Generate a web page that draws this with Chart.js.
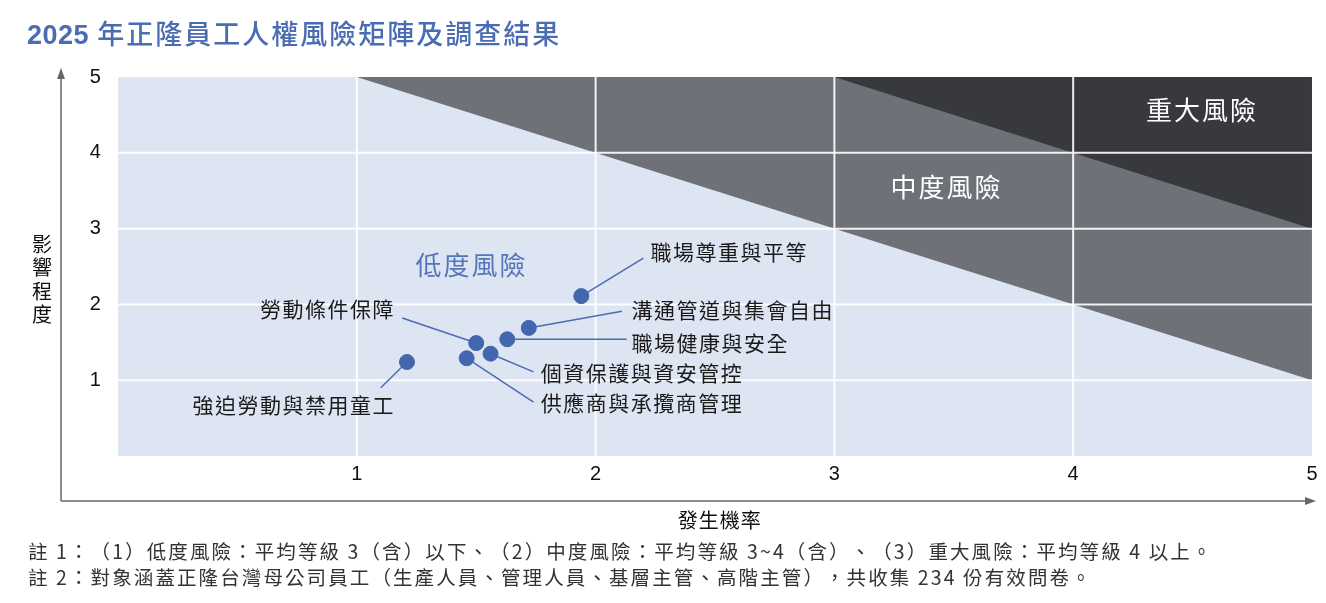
<!DOCTYPE html>
<html>
<head>
<meta charset="utf-8">
<script src="https://cdn.jsdelivr.net/npm/chart.js@4"></script>
<style>
  html, body { margin: 0; padding: 0; background: #fff; }
  #wrap { position: relative; width: 1326px; height: 603px; }
  #mycanvas { position: absolute; left: 0; top: 0; }
  .txt { position: absolute; white-space: nowrap; text-spacing-trim: space-all; }
  #title { left: 27px; top: 14px; line-height: 38px; font-size: 27px; color: #4a6cb3;
           font-family: "Noto Sans CJK TC", sans-serif; font-weight: 500; letter-spacing: 2px; }
  #title b { font-family: "Liberation Sans", sans-serif; font-weight: bold; font-size: 27px; letter-spacing: 0.5px; }
  .note { left: 28px; line-height: 24px; font-size: 19.5px; color: #333; letter-spacing: 2.1px;
          font-family: "Noto Sans CJK TC", sans-serif; }
</style>
</head>
<body>
<div id="wrap">
  <canvas id="mycanvas" width="1326" height="603"></canvas>
  <div class="txt" id="title"></div>
  <div class="txt note" id="note1" style="top:539px"></div>
  <div class="txt note" id="note2" style="top:565px"></div>
</div>
<script>
// risk items: probability (x) and impact (y)
var items = ["職場尊重與平等", "溝通管道與集會自由", "職場健康與安全", "勞動條件保障",
             "個資保護與資安管控", "供應商與承攬商管理", "強迫勞動與禁用童工"];
var probability = [1.94, 1.72, 1.63, 1.50, 1.56, 1.46, 1.21];
var impact      = [2.11, 1.69, 1.54, 1.49, 1.35, 1.29, 1.24];

// where each label's leader line ends and where its text sits (data units)
var leadX  = [2.20, 2.11, 2.13, 1.19, 1.74, 1.74, 1.10];
var leadY  = [2.61, 1.91, 1.54, 1.82, 1.11, 0.71, 0.90];
var textX  = [2.23, 2.15, 2.15, 1.16, 1.77, 1.77, 1.16];
var textY  = [2.69, 1.93, 1.49, 1.94, 1.095, 0.70, 0.67];
var textAlign = ["left", "left", "left", "right", "left", "left", "right"];

var ticks = [1, 2, 3, 4, 5];
var regionNames = ["低度風險", "中度風險", "重大風險"];
var regionX = [1.48, 3.47, 4.54];
var regionY = [2.52, 3.55, 4.56];

var titleYear = "2025";
var title = " 年正隆員工人權風險矩陣及調查結果";
var xTitle = "發生機率";
var yTitle = "影響程度";
var notes = [
  "註 1：（1）低度風險：平均等級 3（含）以下、（2）中度風險：平均等級 3~4（含）、（3）重大風險：平均等級 4 以上。",
  "註 2：對象涵蓋正隆台灣母公司員工（生產人員、管理人員、基層主管、高階主管），共收集 234 份有效問卷。"
];

var FONT = '"Liberation Sans", "Noto Sans CJK TC", sans-serif';
var CJK = '"Noto Sans CJK TC", "Liberation Sans", sans-serif';

document.getElementById("title").innerHTML = "<b>" + titleYear + "</b>" + title;
document.getElementById("note1").textContent = notes[0];
document.getElementById("note2").textContent = notes[1];

var matrixPlugin = {
  id: "matrix",
  beforeDatasetsDraw: function(chart) {
    var c = chart.ctx, xs = chart.scales.x, ys = chart.scales.y;
    function X(v) { return xs.getPixelForValue(v); }
    function Y(v) { return ys.getPixelForValue(v); }
    c.save();
    // zones
    c.fillStyle = "#dee5f2";
    c.fillRect(X(0), Y(5), X(5) - X(0), Y(0) - Y(5));
    c.fillStyle = "#6f7179";
    c.beginPath(); c.moveTo(X(1), Y(5)); c.lineTo(X(5), Y(5)); c.lineTo(X(5), Y(1)); c.closePath(); c.fill();
    c.fillStyle = "#38393d";
    c.beginPath(); c.moveTo(X(3), Y(5)); c.lineTo(X(5), Y(5)); c.lineTo(X(5), Y(3)); c.closePath(); c.fill();
    // grid
    c.strokeStyle = "rgba(255,255,255,0.9)";
    c.lineWidth = 2;
    for (var i = 1; i < 5; i++) {
      c.beginPath(); c.moveTo(X(i), Y(0)); c.lineTo(X(i), Y(5)); c.stroke();
      c.beginPath(); c.moveTo(X(0), Y(i)); c.lineTo(X(5), Y(i)); c.stroke();
    }
    // axes with arrows
    c.strokeStyle = "#666"; c.fillStyle = "#666"; c.lineWidth = 1.5;
    var ox = chart.chartArea.left, oy = chart.chartArea.bottom;
    var tx = chart.chartArea.right, ty = chart.chartArea.top;
    c.beginPath(); c.moveTo(ox, oy); c.lineTo(ox, ty + 8); c.stroke();
    c.beginPath(); c.moveTo(ox, oy); c.lineTo(tx - 8, oy); c.stroke();
    c.beginPath(); c.moveTo(ox, ty); c.lineTo(ox - 4, ty + 11); c.lineTo(ox + 4, ty + 11); c.closePath(); c.fill();
    c.beginPath(); c.moveTo(tx, oy); c.lineTo(tx - 11, oy - 4); c.lineTo(tx - 11, oy + 4); c.closePath(); c.fill();
    // tick labels
    c.fillStyle = "#111"; c.font = "20px " + FONT;
    c.textAlign = "center"; c.textBaseline = "middle";
    ticks.forEach(function(t) {
      c.fillText(String(t), X(t), Y(-0.25));
      c.fillText(String(t), X(-0.095), Y(t));
    });
    // axis titles
    c.font = "20px " + CJK;
    c.letterSpacing = "1px";
    c.fillText(xTitle, X(2.52), oy + 19);
    c.letterSpacing = "0px";
    for (var k = 0; k < yTitle.length; k++) {
      c.fillText(yTitle[k], 42, 244 + k * 23.5);
    }
    // zone names
    c.font = "26px " + CJK;
    c.letterSpacing = "2px";
    regionNames.forEach(function(n, j) {
      c.fillStyle = j === 0 ? "#5475b8" : "#ffffff";
      c.fillText(n, X(regionX[j]), Y(regionY[j]));
    });
    c.letterSpacing = "0px";
    // leader lines
    c.strokeStyle = "#4a6cb3"; c.lineWidth = 1.5;
    items.forEach(function(n, j) {
      c.beginPath();
      c.moveTo(X(probability[j]), Y(impact[j]));
      c.lineTo(X(leadX[j]), Y(leadY[j]));
      c.stroke();
    });
    // item labels
    c.fillStyle = "#1a1a1a"; c.font = "21px " + CJK;
    c.letterSpacing = "1.5px";
    items.forEach(function(n, j) {
      c.textAlign = textAlign[j];
      c.fillText(n, X(textX[j]), Y(textY[j]));
    });
    c.letterSpacing = "0px";
    c.restore();
  }
};

var points = probability.map(function(v, i) { return { x: v, y: impact[i] }; });

new Chart(document.getElementById("mycanvas"), {
  type: "scatter",
  data: {
    datasets: [{
      label: "風險項目",
      data: points,
      backgroundColor: "#4466ad",
      borderColor: "#4466ad",
      pointRadius: 7.5,
      pointHoverRadius: 7.5
    }]
  },
  options: {
    responsive: false,
    animation: false,
    layout: { padding: { left: 61, right: 10, top: 68, bottom: 102 } },
    scales: {
      x: { type: "linear", min: -0.239, max: 5.017, display: false },
      y: { type: "linear", min: -0.594, max: 5.12, display: false }
    },
    plugins: { legend: { display: false }, tooltip: { enabled: false } }
  },
  plugins: [matrixPlugin]
});
</script>
</body>
</html>
